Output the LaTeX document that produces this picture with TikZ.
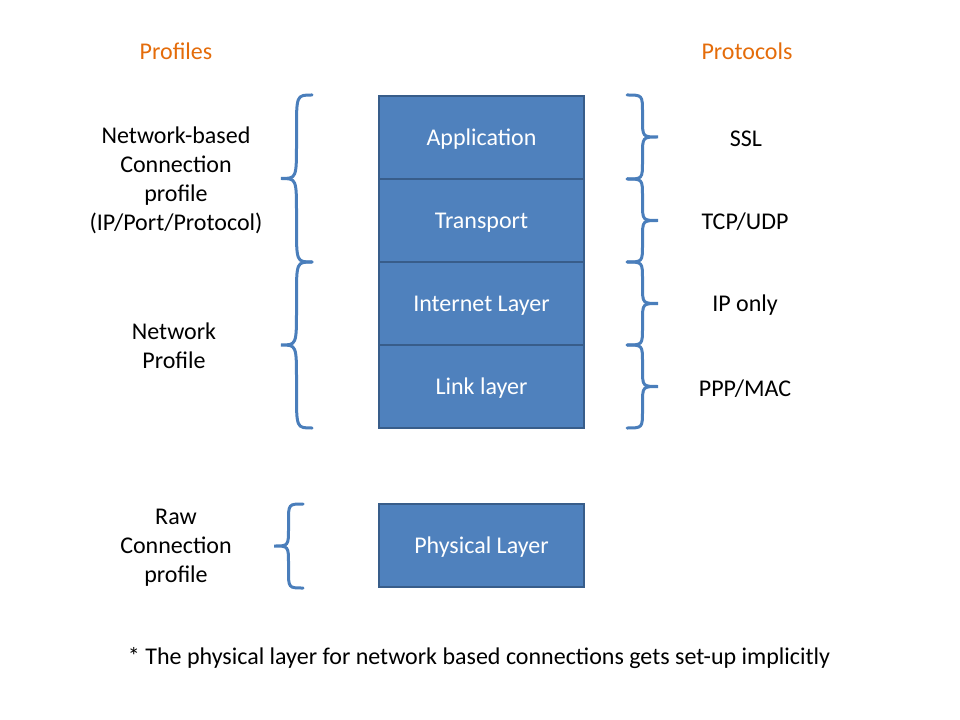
\documentclass[tikz,border=0pt]{standalone}
\usepackage{fontspec}
\setmainfont{Carlito}
\usepackage{tikz}

\definecolor{layerfill}{HTML}{4F81BD}
\definecolor{layerline}{HTML}{385D8A}
\definecolor{bracecol}{HTML}{4A7EBB}
\definecolor{headcol}{HTML}{E46C0A}

% left curly brace: tip x, top y, bottom y, width
\newcommand{\curlyleft}[4]{%
  \pgfmathsetmacro\cmid{(#2+#3)/2}%
  \pgfmathsetmacro\cx{#1+#4/2}%
  \pgfmathsetmacro\cr{(#3-#2)/4.6}%
  \draw[bracestyle] (#1+#4,#2) .. controls (\cx,#2) .. (\cx,#2+\cr) -- (\cx,\cmid-\cr)
    .. controls (\cx,\cmid) .. (#1,\cmid) .. controls (\cx,\cmid) .. (\cx,\cmid+\cr)
    -- (\cx,#3-\cr) .. controls (\cx,#3) .. (#1+#4,#3);
}
% right curly brace: tip x, top y, bottom y, width
\newcommand{\curlyright}[4]{%
  \pgfmathsetmacro\cmid{(#2+#3)/2}%
  \pgfmathsetmacro\cx{#1-#4/2}%
  \pgfmathsetmacro\cr{(#3-#2)/4.6}%
  \draw[bracestyle] (#1-#4,#2) .. controls (\cx,#2) .. (\cx,#2+\cr) -- (\cx,\cmid-\cr)
    .. controls (\cx,\cmid) .. (#1,\cmid) .. controls (\cx,\cmid) .. (\cx,\cmid+\cr)
    -- (\cx,#3-\cr) .. controls (\cx,#3) .. (#1-#4,#3);
}
% lower box text a little, keeping its size
\newcommand{\layertext}[1]{\raisebox{-1.5pt}[\height][\depth]{#1}}

\begin{document}
\begin{tikzpicture}[x=0.75pt, y=-0.75pt,
  every node/.style={font=\fontsize{18}{21.6}\selectfont},
  layer/.style={draw=layerline, line width=1.5pt, fill=layerfill, text=white,
    minimum width=153.75pt, minimum height=62.25pt, inner sep=0pt},
  heading/.style={text=headcol},
  label/.style={align=center},
  bracestyle/.style={draw=bracecol, line width=2.25pt, line cap=round}]

\useasboundingbox (0,0) rectangle (960,720);

% headings
\node[heading] (profiles) at (176,51) {Profiles};
\node[heading] (protocols) at (747,51) {Protocols};

% layer stack
\node[layer] (app) at (481.5,137.5) {\layertext{Application}};
\node[layer] (trans) at (481.5,220.5) {\layertext{Transport}};
\node[layer] (inet) at (481.5,303.5) {\layertext{Internet Layer}};
\node[layer] (link) at (481.5,386.5) {\layertext{Link layer}};
\node[layer] (phys) at (481.5,545.5) {\layertext{Physical Layer}};

% profiles on the left
\node[label] (netconn) at (176,180.5) {Network-based\\Connection\\profile\\(IP/Port/Protocol)};
\node[label] (netprof) at (174,345.5) {Network\\Profile};
\node[label] (rawconn) at (176,548) {Raw\\Connection\\profile};

\curlyleft{281}{95}{262}{31}
\curlyleft{281}{262}{428}{31}
\curlyleft{274}{504}{588}{29}

% protocols on the right
\node (ssl) at (746,138.5) {SSL};
\node (tcp) at (745,221.5) {TCP/UDP};
\node (ip) at (745,305.5) {IP only};
\node (ppp) at (745,388.5) {PPP/MAC};

\curlyright{658}{95}{179}{31}
\curlyright{658}{179}{262}{31}
\curlyright{658}{262}{345}{31}
\curlyright{658}{345}{428}{31}

% footnote
\node (note) at (479,658.5) {* The physical layer for network based connections gets set-up implicitly};

\end{tikzpicture}
\end{document}
